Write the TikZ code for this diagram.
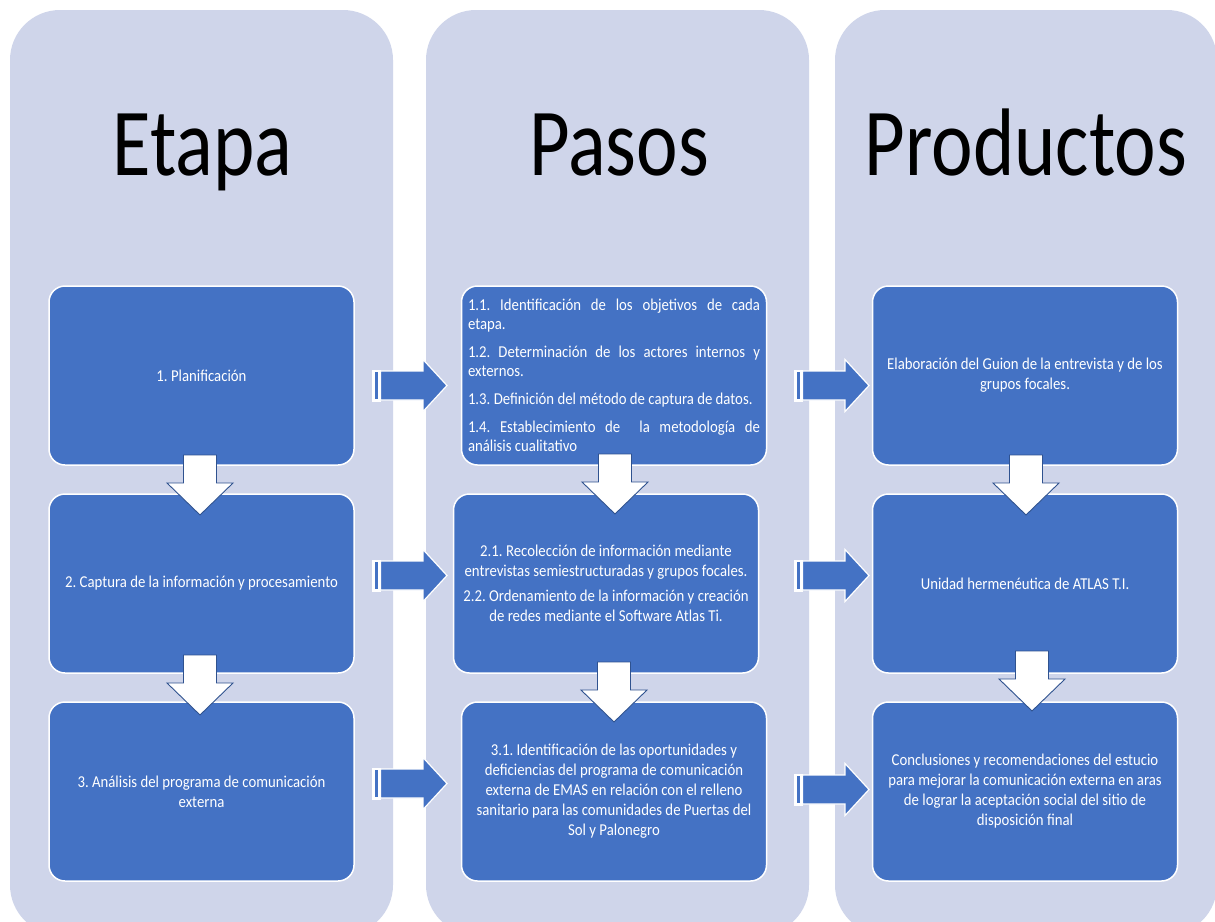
\documentclass[tikz,border=0pt]{standalone}
\usepackage{fontspec}
\setmainfont{Carlito}
\newfontfamily\hdrfont[FakeStretch=0.82]{Carlito}
\newfontfamily\txtfont[FakeStretch=0.89]{Carlito}
\definecolor{colbg}{HTML}{CFD5EA}
\definecolor{boxblue}{HTML}{4472C4}
\definecolor{arrline}{HTML}{2F528F}
\frenchspacing
\begin{document}
\begin{tikzpicture}[x=1pt,y=-1pt,
  colbox/.style={fill=colbg, rounded corners=50pt},
  stage/.style={draw=white, line width=1.5pt, fill=boxblue, rounded corners=16pt,
    minimum width=305pt, minimum height=179pt, text=white, inner sep=0pt,
    font=\txtfont\fontsize{16.6}{20}\selectfont\frenchspacing, align=center},
  header/.style={font=\hdrfont\fontsize{96}{96}\selectfont, anchor=base, inner sep=0pt},
  rarrow/.pic={
    \fill[white] (0,-16) rectangle (9,16);
    \fill[boxblue] (3,-13.5) rectangle (5.5,13.5);
    \draw[white, line width=1.2pt, fill=boxblue] (8.5,-14.5) -- (51,-14.5) -- (51,-26) -- (75,0) -- (51,26) -- (51,14.5) -- (8.5,14.5) -- cycle;
  },
  darrow/.pic={
    \draw[arrline, line width=0.9pt, fill=white] (-16.5,0) -- (16.5,0) -- (16.5,28) -- (33,28) -- (0,60) -- (-33,28) -- (-16.5,28) -- cycle;
  }
]
\useasboundingbox (0,0) rectangle (1215,921);
\fill[white] (0,0) rectangle (1215,921);
% columns
\fill[colbox] (10,10) rectangle (393,935);
\fill[colbox] (426,10) rectangle (809,935);
\fill[colbox] (835,10) rectangle (1217,935);
% headers
\node[header] (h1) at (202.5,175) {Etapa};
\node[header] (h2) at (619,175) {Pasos};
\node[header] (h3) at (1026,175) {Productos};
% column 1
\node[stage] (a1) at (201.5,375.5) {1. Planificación};
\node[stage] (a2) at (201.5,583.5) {2. Captura de la información y procesamiento};
\node[stage] (a3) at (201.5,791.5) {3. Análisis del programa de comunicación\\externa};
% column 2
\node[stage, text width=292pt, align=justify, font=\txtfont\fontsize{16.6}{19}\selectfont\frenchspacing] (b1) at (614,375.5) {%
1.1. Identificación de los objetivos de cada\linebreak etapa.\par\vspace{9pt}
1.2. Determinación de los actores internos y\linebreak externos.\par\vspace{9pt}
1.3. Definición del método de captura de datos.\par\vspace{9pt}
1.4. Establecimiento de \ la metodología de\linebreak análisis cualitativo};
\node[stage] (b2) at (606,583.5) {2.1. Recolección de información mediante\\entrevistas semiestructuradas y grupos focales.\\[5pt]2.2. Ordenamiento de la información y creación\\de redes mediante el Software Atlas Ti.};
\node[stage] (b3) at (614,791.5) {3.1. Identificación de las oportunidades y\\deficiencias del programa de comunicación\\externa de EMAS en relación con el relleno\\sanitario para las comunidades de Puertas del\\Sol y Palonegro};
% column 3
\node[stage] (p1) at (1025,375.5) {Elaboración del Guion de la entrevista y de los\\grupos focales.};
\node[stage] (p2) at (1025,583.5) {Unidad hermenéutica de ATLAS T.I.};
\node[stage] (p3) at (1025,791.5) {Conclusiones y recomendaciones del estucio\\para mejorar la comunicación externa en aras\\de lograr la aceptación social del sitio de\\disposición final};
% right arrows
\pic at (372,385.5) {rarrow};
\pic at (372,575.5) {rarrow};
\pic at (372,783.5) {rarrow};
\pic at (794,385.5) {rarrow};
\pic at (794,575.5) {rarrow};
\pic at (794,789.5) {rarrow};
% down arrows
\pic at (200,455) {darrow};
\pic at (200,655) {darrow};
\pic at (615,454) {darrow};
\pic at (614,662) {darrow};
\pic at (1026,455) {darrow};
\pic at (1032,651) {darrow};
\end{tikzpicture}
\end{document}
